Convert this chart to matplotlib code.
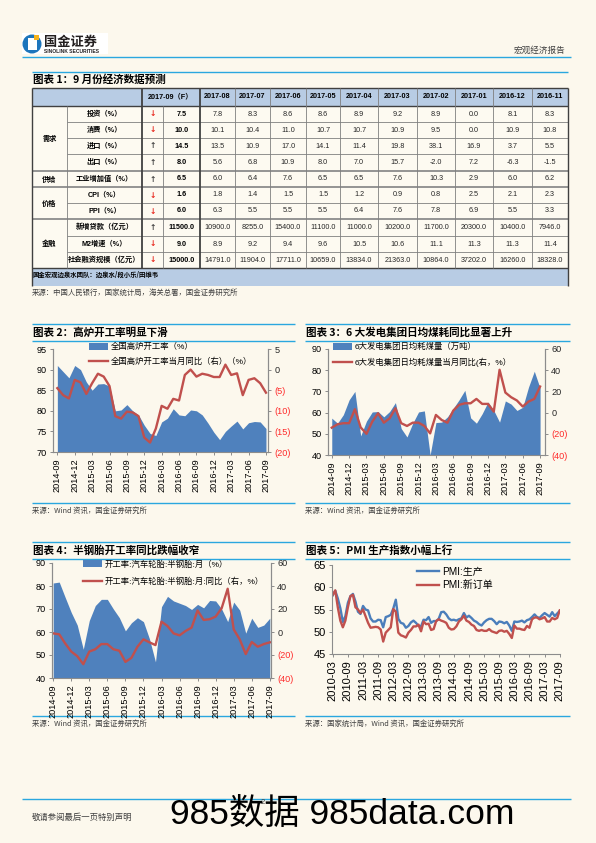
import matplotlib
matplotlib.use('Agg')
import matplotlib.pyplot as plt
from matplotlib.patches import Rectangle, Circle
from matplotlib.lines import Line2D
import numpy as np
import pandas as pd

plt.rcParams['font.family'] = ['Liberation Sans', 'Noto Sans CJK SC', 'DejaVu Sans']

W, H = 596, 843
BG = '#fcf8ed'
LBLUE = '#2aa7df'
FILL = '#4f81bd'
RED = '#c0504d'
HEAD = '#b8cce4'
CJK = ['Noto Sans CJK SC', 'DejaVu Sans']

# ---- table 1 data ----
tbl_months = ['2017-08', '2017-07', '2017-06', '2017-05', '2017-04',
              '2017-03', '2017-02', '2017-01', '2016-12', '2016-11']
tbl_items = ['投资（%）', '消费（%）', '进口（%）', '出口（%）', '工业增加值（%）',
             'CPI（%）', 'PPI（%）', '新增贷款（亿元）', 'M2增速（%）', '社会融资规模（亿元）']
tbl_groups = [('需求', 0, 4), ('供给', 4, 5), ('价格', 5, 7), ('金融', 7, 10)]
tbl_forecast = [7.5, 10.0, 14.5, 8.0, 6.5, 1.6, 6.0, 11500.0, 9.0, 15000.0]
tbl_dir = ['down', 'down', 'up', 'up', 'up', 'down', 'down', 'up', 'down', 'down']
tbl_hist = [
    [7.8, 8.3, 8.6, 8.6, 8.9, 9.2, 8.9, 0.0, 8.1, 8.3],
    [10.1, 10.4, 11.0, 10.7, 10.7, 10.9, 9.5, 0.0, 10.9, 10.8],
    [13.5, 10.9, 17.0, 14.1, 11.4, 19.8, 38.1, 16.9, 3.7, 5.5],
    [5.6, 6.8, 10.9, 8.0, 7.0, 15.7, -2.0, 7.2, -6.3, -1.5],
    [6.0, 6.4, 7.6, 6.5, 6.5, 7.6, 10.3, 2.9, 6.0, 6.2],
    [1.8, 1.4, 1.5, 1.5, 1.2, 0.9, 0.8, 2.5, 2.1, 2.3],
    [6.3, 5.5, 5.5, 5.5, 6.4, 7.6, 7.8, 6.9, 5.5, 3.3],
    [10900.0, 8255.0, 15400.0, 11100.0, 11000.0, 10200.0, 11700.0, 20300.0, 10400.0, 7946.0],
    [8.9, 9.2, 9.4, 9.6, 10.5, 10.6, 11.1, 11.3, 11.3, 11.4],
    [14791.0, 11904.0, 17711.0, 10659.0, 13834.0, 21363.0, 10864.0, 37202.0, 16260.0, 18328.0],
]

# ---- chart 2: blast furnace ----
bf_rate = [91.0, 89.5, 88.0, 91.0, 90.0, 87.0, 85.0, 86.5, 86.6, 86.0, 80.0, 80.2, 81.5,
           80.0, 79.0, 76.5, 74.5, 74.0, 77.3, 78.2, 80.5, 79.0, 78.8, 80.2, 80.0, 79.0,
           77.0, 74.8, 73.0, 75.0, 76.3, 77.5, 75.6, 77.1, 77.4, 77.3, 75.7]
bf_yoy = [-4.5, -6.2, -7.0, -2.5, -3.1, -5.9, -3.3, -1.0, -1.7, -4.0, -11.3, -11.9, -10.2,
          -10.4, -11.3, -16.5, -17.7, -14.3, -8.8, -9.5, -7.1, -7.5, -1.3, 0.0, -1.7, -1.0,
          -1.3, -1.8, -1.8, 1.2, -1.3, -0.9, -6.2, -2.5, -2.1, -3.3, -5.6]

# ---- chart 3: coal consumption ----
coal = [57.4, 55.0, 59.0, 66.0, 70.0, 49.0, 56.0, 60.3, 60.5, 58.0, 60.5, 64.7, 52.5,
        48.5, 55.0, 60.3, 60.8, 40.0, 55.3, 55.5, 58.0, 62.0, 66.0, 70.5, 57.5, 55.0,
        59.5, 65.0, 61.0, 55.5, 65.5, 64.0, 61.0, 62.5, 72.0, 79.5, 71.5]
coal_yoy = [-14.2, -11.0, -10.0, -10.0, 3.2, -14.0, -20.0, -8.5, -0.6, -9.5, -5.4, 4.1, -10.0,
            -12.6, -9.5, -9.5, -12.6, -19.6, -2.2, -7.0, -9.5, 1.9, 7.3, 8.8, 8.8, 12.9,
            8.2, 8.2, 0.9, 40.4, 18.9, 14.5, 11.4, 5.7, 10.4, 12.9, 24.6]

# ---- chart 4: semi-steel tyre ----
tyre = [81.3, 81.7, 75.0, 68.5, 63.0, 52.5, 65.0, 71.5, 74.2, 74.2, 70.0, 66.2, 60.5,
        64.0, 66.2, 64.5, 57.0, 47.0, 71.0, 75.5, 73.5, 72.5, 71.5, 69.8, 72.0, 70.5,
        73.7, 73.5, 70.0, 64.5, 73.0, 69.5, 59.5, 66.0, 62.0, 63.0, 66.0]
tyre_yoy = [-1.2, -2.0, -10.0, -17.0, -21.0, -28.0, -17.0, -15.0, -10.5, -10.5, -15.0, -16.3,
            -26.0, -22.5, -12.8, -6.4, -9.0, -11.4, 9.0, 5.2, -1.2, -2.9, 0.9, 3.8, 18.7,
            10.5, 11.1, 13.4, 20.7, 37.6, 2.3, -6.4, -19.2, -8.7, -12.8, -10.5, -9.0]

# ---- chart 5: PMI (2010-03 .. 2017-09) ----
pmi_prod = [58.2, 59.2, 57.5, 55.3, 52.2, 53.5, 56.5, 58.0, 58.5, 56.8,
            54.5, 54.0, 55.8, 55.0, 54.8, 53.0, 52.3, 52.3, 52.7, 52.6, 51.0, 53.3,
            53.5, 53.8, 55.2, 57.2, 52.9, 52.0, 51.8, 50.9, 51.3, 52.1, 52.5, 52.0,
            51.3, 51.2, 52.7, 52.6, 53.3, 52.0, 52.4, 52.4, 52.9, 54.4, 54.5, 53.9,
            53.0, 52.6, 52.7, 52.5, 52.8, 53.0, 54.2, 53.2, 53.6, 53.1, 52.5, 52.2,
            51.7, 51.4, 52.1, 52.6, 52.9, 52.9, 52.4, 51.7, 52.3, 52.2, 51.9, 52.2,
            51.4, 50.2, 52.3, 52.2, 52.3, 52.5, 52.1, 52.6, 52.8, 53.3, 53.9, 53.3,
            53.1, 53.7, 54.2, 53.8, 53.4, 54.4, 53.5, 54.1, 54.7]
pmi_new = [58.3, 59.3, 55.5, 52.5, 51.0, 52.5, 55.5, 58.0, 58.3, 55.5,
           55.0, 54.2, 55.0, 53.5, 52.0, 50.9, 51.0, 51.1, 51.0, 50.5, 47.8, 49.8,
           50.4, 51.0, 55.1, 54.5, 49.8, 49.2, 49.0, 48.7, 49.8, 50.4, 51.2, 51.2,
           51.6, 50.1, 52.3, 51.7, 51.8, 50.4, 50.6, 52.4, 52.8, 52.5, 52.3, 52.0,
           50.9, 50.5, 50.6, 51.2, 52.3, 52.8, 53.6, 52.5, 52.2, 51.6, 51.3, 50.4,
           50.2, 50.4, 50.2, 50.2, 50.6, 50.1, 49.9, 49.7, 50.2, 50.3, 50.0, 50.2,
           49.5, 48.6, 51.4, 50.7, 50.7, 50.5, 50.4, 51.3, 50.9, 52.8, 53.2, 53.2,
           52.8, 53.0, 53.3, 52.3, 52.3, 53.1, 52.8, 53.1, 54.8]

m_short = [p.strftime('%Y-%m') for p in pd.period_range('2014-09', '2017-09', freq='M')]
m_pmi = [p.strftime('%Y-%m') for p in pd.period_range('2010-03', '2017-09', freq='M')]

fig = plt.figure(figsize=(W / 100, H / 100), dpi=100, facecolor=BG)
ov = fig.add_axes([0, 0, 1, 1], zorder=0)
ov.set_xlim(0, W)
ov.set_ylim(H, 0)
ov.axis('off')
ov.patch.set_alpha(0)


def rect(x0, y0, x1, y1):
    return [x0 / W, 1 - y1 / H, (x1 - x0) / W, (y1 - y0) / H]


def hline(y, x0, x1, color=LBLUE, lw=1.0):
    ov.plot([x0, x1], [y, y], color=color, lw=lw, solid_capstyle='butt')


def vline(x, y0, y1, color='#7f7f7f', lw=0.6):
    ov.plot([x, x], [y0, y1], color=color, lw=lw, solid_capstyle='butt')


# ---- page header ----
ov.add_patch(Rectangle((22, 33), 86, 21, facecolor='white', lw=0))
ov.add_patch(Circle((32, 44), 9.5, facecolor='#1c75bc', lw=0))
ov.add_patch(Rectangle((28, 38), 9, 12, facecolor='white', lw=0))
ov.add_patch(Rectangle((34, 35), 5, 5, facecolor='#f6b31b', lw=0))
ov.text(44, 42, '国金证券', fontsize=9.5, fontweight='bold', family=CJK,
        va='center', ha='left', color='#231f20')
ov.text(44, 51.5, 'SINOLINK SECURITIES', fontsize=3.6, fontweight='bold',
        va='center', ha='left', color='#231f20')
ov.text(565, 50, '宏观经济报告', fontsize=6.2, family=CJK, ha='right', va='center',
        color='#404040')
hline(57, 22, 571)

# ---- table 1 ----
hline(72, 32, 568)
ov.text(33, 80, '图表 1：9 月份经济数据预测', fontsize=7.6, fontweight='bold',
        fontstyle='italic', family=CJK, va='center', ha='left')

tx = [32, 67, 142, 163, 200, 235, 270, 306, 340, 378, 417, 455, 493, 532, 568]
ty = [88, 106, 122, 138, 154, 171, 187, 203, 219, 236, 252, 268, 286]
ov.add_patch(Rectangle((tx[0], ty[0]), tx[-1] - tx[0], ty[1] - ty[0], facecolor=HEAD, lw=0))
ov.add_patch(Rectangle((tx[0], ty[-2]), tx[-1] - tx[0], ty[-1] - ty[-2], facecolor=HEAD, lw=0))
ov.add_patch(Rectangle((tx[0], ty[1]), tx[-1] - tx[0], ty[-2] - ty[1], facecolor='#fdfaf1', lw=0))

group_starts = {g[1] for g in tbl_groups}
for r in range(1, len(tbl_items)):
    y = ty[r + 1]
    if r in group_starts:
        hline(y, tx[0], tx[-1], color='#8c8c8c', lw=1.3)
    else:
        hline(y, tx[1], tx[-1], color='#7f7f7f', lw=0.6)
hline(ty[1], tx[0], tx[-1], color='#404040', lw=1.0)
hline(ty[-2], tx[0], tx[-1], color='#404040', lw=1.0)
hline(ty[0], tx[0], tx[-1], color='#404040', lw=1.0)
for i, x in enumerate(tx):
    if i in (0, len(tx) - 1):
        vline(x, ty[0], ty[-1], color='#404040', lw=1.0)
    elif x in (142, 200):
        vline(x, ty[0], ty[-2], color='#404040', lw=1.3)
    elif i in (1, 3):
        vline(x, ty[1], ty[-2])
    else:
        vline(x, ty[0], ty[-2])

ov.text((tx[2] + tx[4]) / 2, (ty[0] + ty[1]) / 2, '2017-09（F）', fontsize=5.2,
        fontweight='bold', ha='center', va='center')
for j, m in enumerate(tbl_months):
    ov.text((tx[4 + j] + tx[5 + j]) / 2, (ty[0] + ty[1]) / 2, m, fontsize=5.2,
            fontweight='bold', ha='center', va='center')
for name, a, b in tbl_groups:
    ov.text((tx[0] + tx[1]) / 2, (ty[a + 1] + ty[b + 1]) / 2, name, fontsize=5.2,
            fontweight='bold', family=CJK, ha='center', va='center')
for r, item in enumerate(tbl_items):
    yc = (ty[r + 1] + ty[r + 2]) / 2
    ov.text((tx[1] + tx[2]) / 2, yc, item, fontsize=5.2, fontweight='bold',
            ha='center', va='center')
    up = tbl_dir[r] == 'up'
    ov.text((tx[2] + tx[3]) / 2, yc, '↑' if up else '↓', fontsize=5.5, fontweight='bold',
            color='#404040' if up else '#e8261c', ha='center', va='center',
            family=['DejaVu Sans'])
    ov.text((tx[3] + tx[4]) / 2, yc, f'{tbl_forecast[r]:.1f}', fontsize=5.2,
            fontweight='bold', ha='center', va='center')
    for j, v in enumerate(tbl_hist[r]):
        ov.text((tx[4 + j] + tx[5 + j]) / 2, yc, f'{v:.1f}', fontsize=5.2,
                ha='center', va='center', color='#262626')
ov.text(tx[0] + 1, ty[-2] + 6, '国金宏观边泉水团队：边泉水/段小乐/田维韦', fontsize=4.6,
        fontweight='bold', family=CJK, ha='left', va='center')
ov.text(32, 293, '来源：中国人民银行，国家统计局，海关总署，国金证券研究所', fontsize=5.3,
        family=CJK, ha='left', va='center', color='#404040')


# ---- chart helpers ----
def paren(v):
    return f'({abs(v):g})' if v < 0 else f'{v:g}'


def style_axis(ax, left=True, right=True):
    ax.spines['top'].set_visible(False)
    for s in ['left', 'right', 'bottom']:
        ax.spines[s].set_color('#8c8c8c')
        ax.spines[s].set_linewidth(0.8)
    ax.spines['left'].set_visible(left)
    ax.spines['right'].set_visible(right)
    ax.tick_params(length=2.5, width=0.7, color='#8c8c8c', labelsize=6.6, pad=2)
    ax.set_facecolor('none')


def dual_chart(box, xlim, area, line, lylim, lyticks, rylim, ryticks, labels,
               lab_area, lab_line, leg_xy, leg_space):
    ax = fig.add_axes(rect(*box), zorder=2)
    x = np.arange(len(area))
    ax.fill_between(x, area, lylim[0], color=FILL, lw=0)
    ax.set_xlim(*xlim)
    ax.set_ylim(*lylim)
    ax.set_yticks(lyticks)
    ax.set_xticks(x[::3])
    ax.set_xticklabels(labels[::3], rotation=90)
    style_axis(ax)
    ax2 = ax.twinx()
    ax2.plot(x, line, color=RED, lw=1.7)
    ax2.set_ylim(*rylim)
    ax2.set_yticks(ryticks)
    tl = ax2.set_yticklabels([paren(t) for t in ryticks])
    for lab, t in zip(tl, ryticks):
        lab.set_color('#ff2a2a' if t < 0 else '#262626')
    style_axis(ax2)
    ax2.spines['bottom'].set_visible(False)
    handles = [Rectangle((0, 0), 1, 1, facecolor=FILL, lw=0),
               Line2D([0], [0], color=RED, lw=1.7)]
    fig.legend(handles, [lab_area, lab_line], loc='upper left',
               bbox_to_anchor=(leg_xy[0] / W, 1 - leg_xy[1] / H), frameon=False,
               fontsize=6.0, handlelength=2.3, handleheight=0.9, handletextpad=0.3,
               labelspacing=leg_space, borderpad=0, borderaxespad=0)
    return ax, ax2


def chart_frame(x0, x1, ytop, title, ysrc=None, src=None):
    hline(ytop, x0, x1)
    hline(ytop + 17, x0, x1)
    ov.text(x0 + 1, ytop + 8.5, title, fontsize=7.6, fontweight='bold', fontstyle='italic',
            family=CJK, ha='left', va='center')
    if ysrc is not None:
        hline(ysrc, x0, x1)
        ov.text(x0, ysrc + 8, src, fontsize=5.3, family=CJK, ha='left', va='center',
                color='#404040')


chart_frame(32, 295, 324, '图表 2：高炉开工率明显下滑', 503, '来源：Wind 资讯，国金证券研究所')
chart_frame(305, 570, 324, '图表 3：6 大发电集团日均煤耗同比显著上升', 503,
            '来源：Wind 资讯，国金证券研究所')
chart_frame(32, 295, 542, '图表 4：半钢胎开工率同比跌幅收窄', 716, '来源：Wind 资讯，国金证券研究所')
chart_frame(305, 570, 542, '图表 5：PMI 生产指数小幅上行', 716,
            '来源：国家统计局，Wind 资讯，国金证券研究所')

dual_chart((53, 349, 268, 452), (-0.75, 36.35), bf_rate, bf_yoy, (70, 95),
           [70, 75, 80, 85, 90, 95], (-20, 5), [-20, -15, -10, -5, 0, 5], m_short,
           '全国高炉开工率（%）', '全国高炉开工率当月同比（右）（%）', (89, 343), 0.75)
dual_chart((328, 349, 545, 455), (-0.65, 36.85), coal, coal_yoy, (40, 90),
           [40, 50, 60, 70, 80, 90], (-40, 60), [-40, -20, 0, 20, 40, 60], m_short,
           '6大发电集团日均耗煤量（万吨）', '6大发电集团日均耗煤量当月同比(右，%）', (333, 343), 0.75)
dual_chart((52, 563, 271, 678), (-0.2, 36.2), tyre, tyre_yoy, (40, 90),
           [40, 50, 60, 70, 80, 90], (-40, 60), [-40, -20, 0, 20, 40, 60], m_short,
           '开工率:汽车轮胎:半钢胎:月（%）', '开工率:汽车轮胎:半钢胎:月:同比（右，%）', (83, 560), 1.05)

# ---- chart 5 ----
ax5 = fig.add_axes(rect(332, 565, 560, 654), zorder=2)
xp = np.arange(len(pmi_prod))
ax5.plot(xp, pmi_prod, color='#4a7ebb', lw=1.7, label='PMI:生产')
ax5.plot(xp, pmi_new, color=RED, lw=1.7, label='PMI:新订单')
ax5.set_xlim(-0.3, 90.1)
ax5.set_ylim(45, 65)
ax5.set_yticks([45, 50, 55, 60, 65])
ax5.set_xticks(xp[::6])
ax5.set_xticklabels(m_pmi[::6], rotation=90)
style_axis(ax5, right=False)
ax5.tick_params(labelsize=8)
ax5.legend(loc='upper left', bbox_to_anchor=((417 - 332) / 228, 1 - 1 / 89), frameon=False,
           fontsize=7.2, handlelength=2.2, handletextpad=0.3, labelspacing=0.4,
           borderpad=0, borderaxespad=0)

# ---- footer ----
hline(799, 22, 571)
ov.text(32, 817, '敬请参阅最后一页特别声明', fontsize=6.0, family=CJK, ha='left', va='center',
        color='#404040')
ov.text(170, 814, '985数据 985data.com', fontsize=25.5, ha='left', va='center', color='black')
ov.text(263, 802, '2', fontsize=5.5, ha='center', va='center', color='#404040')

fig.savefig('out.png', dpi=100, facecolor=BG)
